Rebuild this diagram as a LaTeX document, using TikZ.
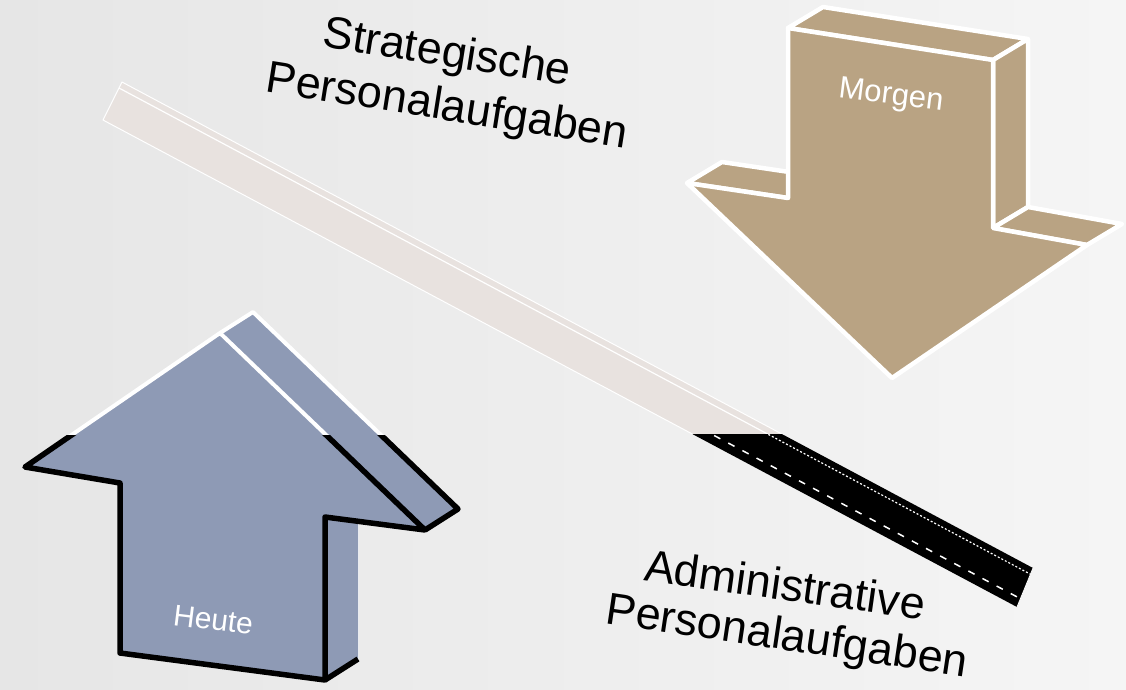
\documentclass[tikz,border=0pt]{standalone}
\usepackage{fontspec}
\setmainfont{Liberation Sans}
\definecolor{bgL}{RGB}{230,230,230}
\definecolor{bgR}{RGB}{245,245,245}
\definecolor{heute}{RGB}{142,154,181}
\definecolor{morgen}{RGB}{185,163,131}
\definecolor{beam}{RGB}{232,226,223}
\begin{document}
\begin{tikzpicture}[x=1pt,y=-1pt,line join=round,
  bigtext/.style={font=\fontsize{45}{54}\selectfont,text=black,inner sep=0pt,anchor=base},
  arrowtext/.style={font=\fontsize{30}{36}\selectfont,text=white,inner sep=0pt,anchor=base},
  whiteedge/.style={draw=white,line width=4pt},
  blackedge/.style={draw=black,line width=5.5pt},
  morgenedge/.style={draw=white,line width=4.5pt,fill=morgen}]
\shade[left color=bgL,right color=bgR] (0,0) rectangle (1126,689);
\useasboundingbox (0,0) rectangle (1126,689);

% ---------- beam ----------
\coordinate (P1) at (122,82);
\coordinate (P2) at (1033,568);
\coordinate (P3) at (1017,607);
\coordinate (P4) at (103,120);
\coordinate (Q1) at (119,88);
\coordinate (Q2) at (1030,574);
\coordinate (R1) at (107,112);
\coordinate (R2) at (1021,599);
\begin{scope}
  \clip (0,0) rectangle (1126,434);
  \fill[beam] (P1) -- (P2) -- (P3) -- (P4) -- cycle;
  \draw[white,line width=1pt] (P1) -- (P2) -- (P3) -- (P4) -- cycle;
  \draw[white,line width=1.2pt] (Q1) -- (Q2);
\end{scope}
\begin{scope}
  \clip (0,434) rectangle (1126,689);
  \fill[black] (P1) -- (P2) -- (P3) -- (P4) -- cycle;
  \draw[white,line width=1.5pt,dash pattern=on 7pt off 9pt] (R1) -- (R2);
  \draw[white,line width=1.2pt,dash pattern=on 2pt off 2pt] (Q1) -- (Q2);
  \draw[white,line width=0.8pt] (P2) -- (P3);
\end{scope}

% ---------- Heute arrow ----------
\coordinate (H1) at (220,333);
\coordinate (H2) at (425,530);
\coordinate (H3) at (325,517);
\coordinate (H4) at (325,680);
\coordinate (H5) at (120,653);
\coordinate (H6) at (120,483);
\coordinate (H7) at (25,467);
\coordinate (K1) at (253,312);
\coordinate (K2) at (458,509);
\coordinate (K3) at (358,521);
\coordinate (K4) at (358,659);
\fill[heute] (H1) -- (K1) -- (K2) -- (H2) -- cycle;
\fill[heute] (H3) -- (K3) -- (K4) -- (H4) -- cycle;
\fill[heute] (H1) -- (H2) -- (H3) -- (H4) -- (H5) -- (H6) -- (H7) -- cycle;
\draw[white!80!heute,line width=0.8pt] (K3) -- (K4);
\begin{scope}
  \clip (0,0) rectangle (1126,435);
  \draw[whiteedge] (H7) -- (H1) -- (H2);
  \draw[whiteedge] (H1) -- (K1) -- (K2);
\end{scope}
\begin{scope}
  \clip (0,435) rectangle (1126,689);
  \draw[blackedge] (H1) -- (H2) -- (H3) -- (H4) -- (H5) -- (H6) -- (H7) -- cycle;
  \draw[blackedge] (K1) -- (K2) -- (H2);
  \draw[blackedge] (H4) -- (K4);
\end{scope}
\node[arrowtext,rotate=-7] (heute) at (212,630) {Heute};

% ---------- Morgen arrow ----------
\coordinate (A1) at (788,28);
\coordinate (A2) at (993,60);
\coordinate (A3) at (993,228);
\coordinate (A4) at (1087,245);
\coordinate (A5) at (892,378);
\coordinate (A6) at (687,183);
\coordinate (A7) at (788,198);
\coordinate (B1) at (823,7);
\coordinate (B2) at (1028,39);
\coordinate (B3) at (1028,207);
\coordinate (B4) at (1122,224);
\coordinate (B6) at (722,162);
\coordinate (B7) at (823,177);
\draw[morgenedge] (A1) -- (B1) -- (B2) -- (A2) -- cycle;
\draw[morgenedge] (A2) -- (B2) -- (B3) -- (A3) -- cycle;
\draw[morgenedge] (A3) -- (B3) -- (B4) -- (A4) -- cycle;
\draw[morgenedge] (A6) -- (B6) -- (B7) -- (A7) -- cycle;
\draw[morgenedge] (A1) -- (A2) -- (A3) -- (A4) -- (A5) -- (A6) -- (A7) -- cycle;
\node[arrowtext,font=\fontsize{31}{36}\selectfont,rotate=-7] (morgen) at (890,104) {Morgen};

% ---------- labels ----------
\node[bigtext,rotate=-9] (strat1) at (445,66) {Strategische};
\node[bigtext,rotate=-9] (strat2) at (445,120) {Personalaufgaben};
\node[bigtext,rotate=-8] (adm1) at (783,600) {Administrative};
\node[bigtext,rotate=-8.5] (adm2) at (785,650) {Personalaufgaben};
\end{tikzpicture}
\end{document}
